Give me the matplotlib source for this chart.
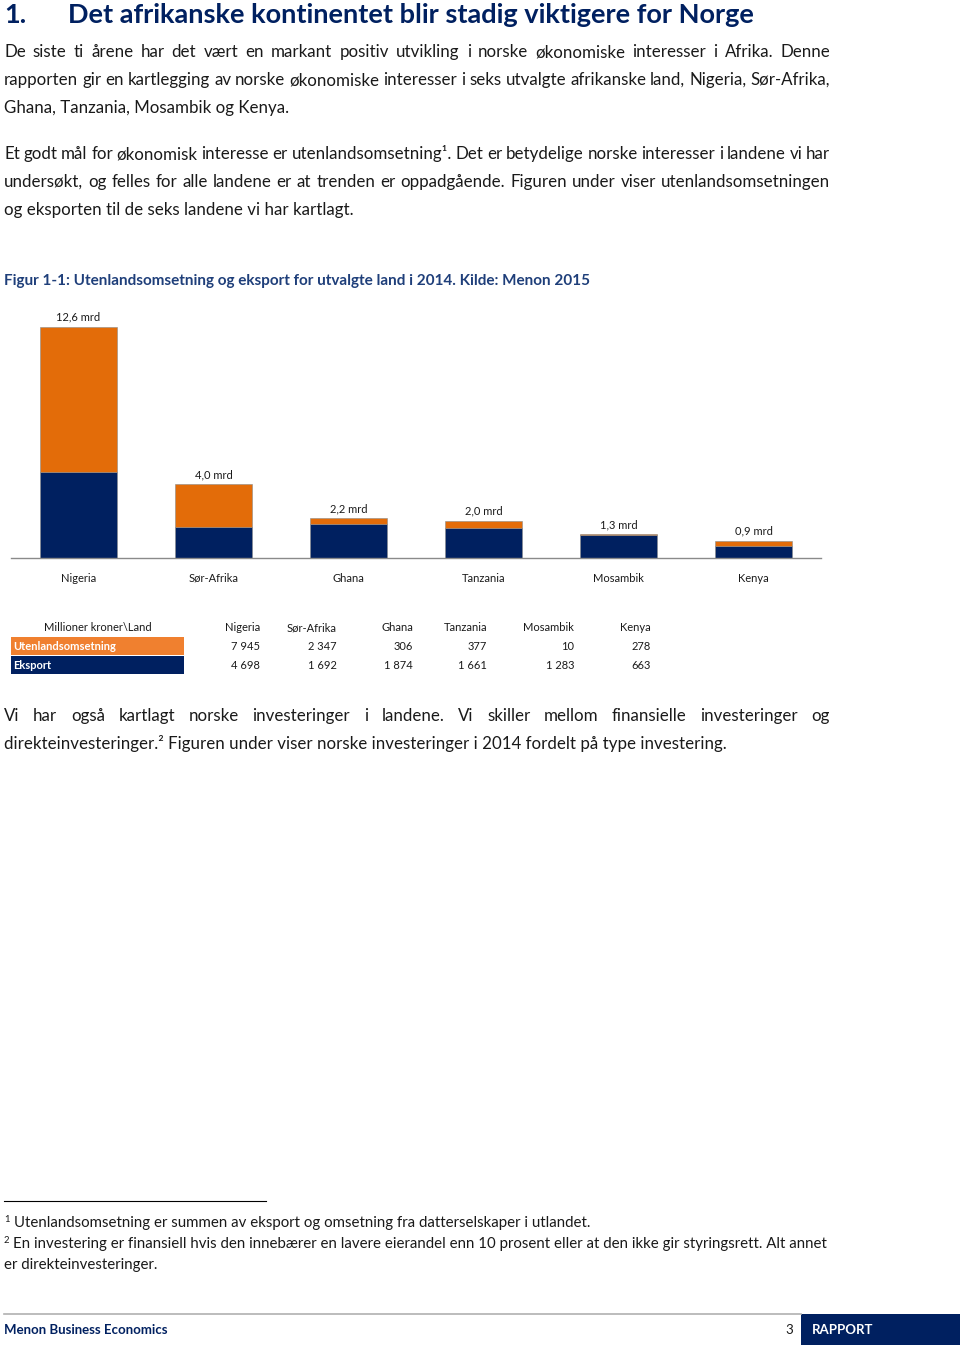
import matplotlib
matplotlib.use("Agg")
import matplotlib.pyplot as plt
from matplotlib.patches import Rectangle
from matplotlib.lines import Line2D

# data
countries = ["Nigeria", "Sør-Afrika", "Ghana", "Tanzania", "Mosambik", "Kenya"]
utenlandsomsetning = [7945, 2347, 306, 377, 10, 278]
eksport = [4698, 1692, 1874, 1661, 1283, 663]

W, H = 960, 1345
BODY = ["Lato", "Open Sans", "DejaVu Sans"]
TEXT = "#1a1a1a"
NAVY = "#002060"
ORANGE = "#E36C09"
TAB_ORANGE = "#F0802F"

fig = plt.figure(figsize=(W / 100, H / 100), dpi=100)
fig.patch.set_facecolor("white")


def put(x, y, s, size=12.2, color=TEXT, weight="normal", ha="left", va="baseline", family=BODY):
    return fig.text(x / W, 1 - y / H, s, fontsize=size, color=color, weight=weight,
                    ha=ha, va=va, family=family)


def justify(x0, x1, y, line, **kw):
    # spread words so the line fills x0..x1 (justified paragraph text)
    words = line.split()
    objs = [put(x0, y, w, **kw) for w in words]
    r = fig.canvas.get_renderer()
    widths = [o.get_window_extent(r).width for o in objs]
    gap = (x1 - x0 - sum(widths)) / (len(words) - 1)
    x = x0
    for o, w in zip(objs, widths):
        o.set_x(x / W)
        x += w + gap


def rect(x0, y0, x1, y1, color):
    fig.patches.append(Rectangle((x0 / W, 1 - y1 / H), (x1 - x0) / W, (y1 - y0) / H,
                                 transform=fig.transFigure, color=color, lw=0))


def hline(x0, x1, y, color, lw=1):
    fig.lines.append(Line2D([x0 / W, x1 / W], [1 - y / H, 1 - y / H],
                            transform=fig.transFigure, color=color, lw=lw))


# title
put(4, 23, "1.", size=19.5, color=NAVY, weight="bold")
put(68, 23, "Det afrikanske kontinentet blir stadig viktigere for Norge", size=19.5,
    color=NAVY, weight="bold")

# paragraph 1
justify(4, 830, 57, "De siste ti årene har det vært en markant positiv utvikling i norske "
        "økonomiske interesser i Afrika. Denne")
justify(4, 830, 85, "rapporten gir en kartlegging av norske økonomiske interesser i seks "
        "utvalgte afrikanske land, Nigeria, Sør-Afrika,")
put(4, 113, "Ghana, Tanzania, Mosambik og Kenya.")

# paragraph 2
justify(4, 830, 159, "Et godt mål for økonomisk interesse er utenlandsomsetning¹. Det er "
        "betydelige norske interesser i landene vi har")
justify(4, 830, 187, "undersøkt, og felles for alle landene er at trenden er oppadgående. "
        "Figuren under viser utenlandsomsetningen")
put(4, 215, "og eksporten til de seks landene vi har kartlagt.")

# figure caption
put(4, 285, "Figur 1-1: Utenlandsomsetning og eksport for utvalgte land i 2014. Kilde: Menon 2015",
    size=10.95, color="#1F3F7A", weight="bold")

# chart
ax = fig.add_axes([11 / W, (H - 558) / H, 810 / W, 258 / H])
x = list(range(len(countries)))
totals = [a + b for a, b in zip(eksport, utenlandsomsetning)]
ax.bar(x, eksport, width=0.563, color=NAVY, edgecolor="#8a8a8a", linewidth=0.4)
ax.bar(x, utenlandsomsetning, bottom=eksport, width=0.563, color=ORANGE,
       edgecolor="#8a8a8a", linewidth=0.4)
for xi, t in zip(x, totals):
    ax.annotate(f"{t / 1000:.1f}".replace(".", ",") + " mrd", (xi, t), xytext=(0, 3),
                textcoords="offset points", ha="center", va="bottom", fontsize=8,
                family=BODY, color=TEXT)
ax.set_xlim(-0.5, 5.5)
ax.set_ylim(0, 14120)
ax.set_xticks(x)
ax.set_xticklabels(countries, fontsize=8, family=BODY, color=TEXT)
ax.tick_params(axis="x", length=0, pad=10.5)
ax.set_yticks([])
for s in ["top", "left", "right"]:
    ax.spines[s].set_visible(False)
ax.spines["bottom"].set_color("#8a8a8a")
ax.spines["bottom"].set_linewidth(1)
ax.set_facecolor("none")

# table under chart
rect(11, 637, 184, 655, TAB_ORANGE)
rect(11, 656, 184, 674, NAVY)
put(98, 631, "Millioner kroner\\Land", size=8, ha="center")
put(13, 650, "Utenlandsomsetning", size=8, color="white", weight="bold")
put(13, 669, "Eksport", size=8, color="white", weight="bold")
col_right = [260, 337, 413, 487, 574, 651]


def fmt(v):
    return f"{v:,}".replace(",", " ")


for xr, c, u, e in zip(col_right, countries, utenlandsomsetning, eksport):
    put(xr, 631, c, size=8, ha="right")
    put(xr, 650, fmt(u), size=8, ha="right")
    put(xr, 669, fmt(e), size=8, ha="right")

# paragraph 3
justify(4, 830, 721, "Vi har også kartlagt norske investeringer i landene. Vi skiller mellom "
        "finansielle investeringer og")
put(4, 749, "direkteinvesteringer.² Figuren under viser norske investeringer i 2014 fordelt "
    "på type investering.")

# footnotes
hline(4, 266, 1201, "black", lw=0.8)
put(4, 1222, "1", size=6.8)
put(14, 1227, "Utenlandsomsetning er summen av eksport og omsetning fra datterselskaper i utlandet.",
    size=10.85)
put(4, 1243, "2", size=6.8)
put(13, 1248, "En investering er finansiell hvis den innebærer en lavere eierandel enn 10 prosent "
    "eller at den ikke gir styringsrett. Alt annet", size=10.85)
put(4, 1269, "er direkteinvesteringer.", size=10.85)

# footer
hline(4, 801, 1314, "#b0b0b0", lw=1.2)
rect(801, 1314, 960, 1345, NAVY)
put(4, 1334, "Menon Business Economics", size=9.5, color=NAVY, weight="bold")
put(793, 1334, "3", size=9.5, ha="right")
put(812, 1334, "RAPPORT", size=9.5, color="white", weight="bold")

fig.savefig("out.png", dpi=100, facecolor="white")
